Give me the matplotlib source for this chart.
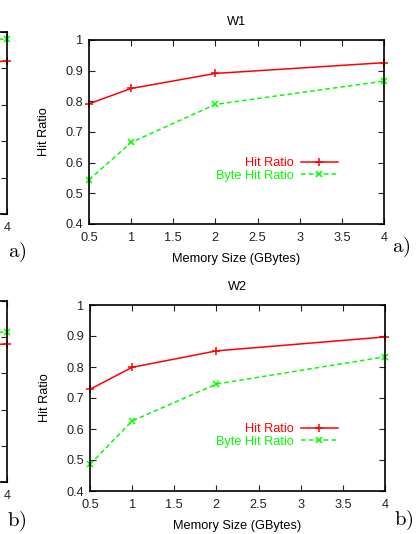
"""
Hit ratio vs memory size for the W1 and W2 workloads (gnuplot-style panels).
"""

import matplotlib
matplotlib.use("Agg")
import matplotlib.pyplot as plt

# data
memory_gb = [0.5, 1, 2, 4]
w1_hit = [0.792, 0.842, 0.891, 0.926]
w1_byte_hit = [0.544, 0.666, 0.790, 0.866]
w2_hit = [0.728, 0.799, 0.852, 0.897]
w2_byte_hit = [0.486, 0.626, 0.745, 0.833]

# neighbouring panels, only their right edge is visible
side_x = [2, 4]
side_a_hit = [0.90, 0.920]
side_a_byte_hit = [0.97, 0.981]
side_b_hit = [0.87, 0.881]
side_b_byte_hit = [0.90, 0.914]

x_ticks = [0.5, 1, 1.5, 2, 2.5, 3, 3.5, 4]
x_tick_labels = ["0.5", "1", "1.5", "2", "2.5", "3", "3.5", "4"]
y_ticks = [0.4, 0.5, 0.6, 0.7, 0.8, 0.9, 1.0]
y_tick_labels = ["0.4", "0.5", "0.6", "0.7", "0.8", "0.9", "1"]
side_y_ticks = [0.5, 0.6, 0.7, 0.8, 0.9, 1.0]

RED = "#ff0000"
GREEN = "#00ff00"
W, H = 417, 534
FS = 9.2

plt.rcParams["font.family"] = ["Liberation Sans", "DejaVu Sans"]
plt.rcParams["mathtext.fontset"] = "cm"

fig = plt.figure(figsize=(W / 100, H / 100), dpi=100)


def px_axes(left, top, right, bottom):
    return fig.add_axes([left / W, 1 - bottom / H, (right - left) / W, (bottom - top) / H])


def style(ax):
    for s in ax.spines.values():
        s.set_linewidth(1.2)
        s.set_color("black")
    ax.tick_params(direction="in", length=4, width=0.8, top=True, right=True,
                   labelsize=FS, pad=4, colors="#222222")
    ax.tick_params(axis="x", pad=6)


def main_panel(ax, hit, byte_hit, title, leg_y):
    ax.plot(memory_gb, hit, color=RED, lw=1.1, marker="+", ms=6, mew=1.1,
            label="Hit Ratio", clip_on=False)
    ax.plot(memory_gb, byte_hit, color=GREEN, lw=1.1, ls=(0, (3, 2)), marker="x",
            ms=5, mew=1.1, label="Byte Hit Ratio", clip_on=False)
    ax.set_xlim(0.5, 4)
    ax.set_ylim(0.4, 1.0)
    ax.set_xticks(x_ticks)
    ax.set_xticklabels(x_tick_labels)
    ax.set_yticks(y_ticks)
    ax.set_yticklabels(y_tick_labels)
    style(ax)
    ax.set_title(title, fontsize=FS, pad=11)
    ax.set_xlabel("Memory Size (GBytes)", fontsize=FS, labelpad=6)
    ax.set_ylabel("Hit Ratio", fontsize=FS, labelpad=11)
    leg = ax.legend(loc="center right", bbox_to_anchor=(338 / W, 1 - leg_y / H),
                    bbox_transform=fig.transFigure, frameon=False, markerfirst=False,
                    fontsize=FS, handlelength=2.9, handletextpad=0.6,
                    labelspacing=0.05, borderpad=0, borderaxespad=0)
    for txt, c in zip(leg.get_texts(), [RED, GREEN]):
        txt.set_color(c)


def side_panel(ax, hit, byte_hit):
    ax.plot(side_x, hit, color=RED, lw=1.1, marker="+", ms=6, mew=1.1, clip_on=False)
    ax.plot(side_x, byte_hit, color=GREEN, lw=1.1, ls=(0, (3, 2)), marker="x",
            ms=5, mew=1.1, clip_on=False)
    ax.set_xlim(0.5, 4)
    ax.set_ylim(0.5, 1.0)
    ax.set_xticks(x_ticks)
    # only the last label falls inside the picture
    ax.set_xticklabels([""] * (len(x_ticks) - 1) + ["4"])
    ax.set_yticks(side_y_ticks)
    ax.set_yticklabels([])
    style(ax)


ax1 = px_axes(89, 40, 384, 224)
main_panel(ax1, w1_hit, w1_byte_hit, "W1", 169.5)
ax2 = px_axes(90, 305, 385, 491)
main_panel(ax2, w2_hit, w2_byte_hit, "W2", 435.5)

side1 = px_axes(7 - 295, 32, 7, 214)
side_panel(side1, side_a_hit, side_a_byte_hit)
side2 = px_axes(7 - 295, 301, 7, 482)
side_panel(side2, side_b_hit, side_b_byte_hit)

# panel letters
for x, y, s in [(17, 252, "a)"), (401, 247, "a)"), (17, 521, "b)"), (404, 520, "b)")]:
    fig.text(x / W, 1 - y / H, r"$\mathrm{" + s + "}$", fontsize=15,
             ha="center", va="center")

fig.savefig("out.png", dpi=100)
